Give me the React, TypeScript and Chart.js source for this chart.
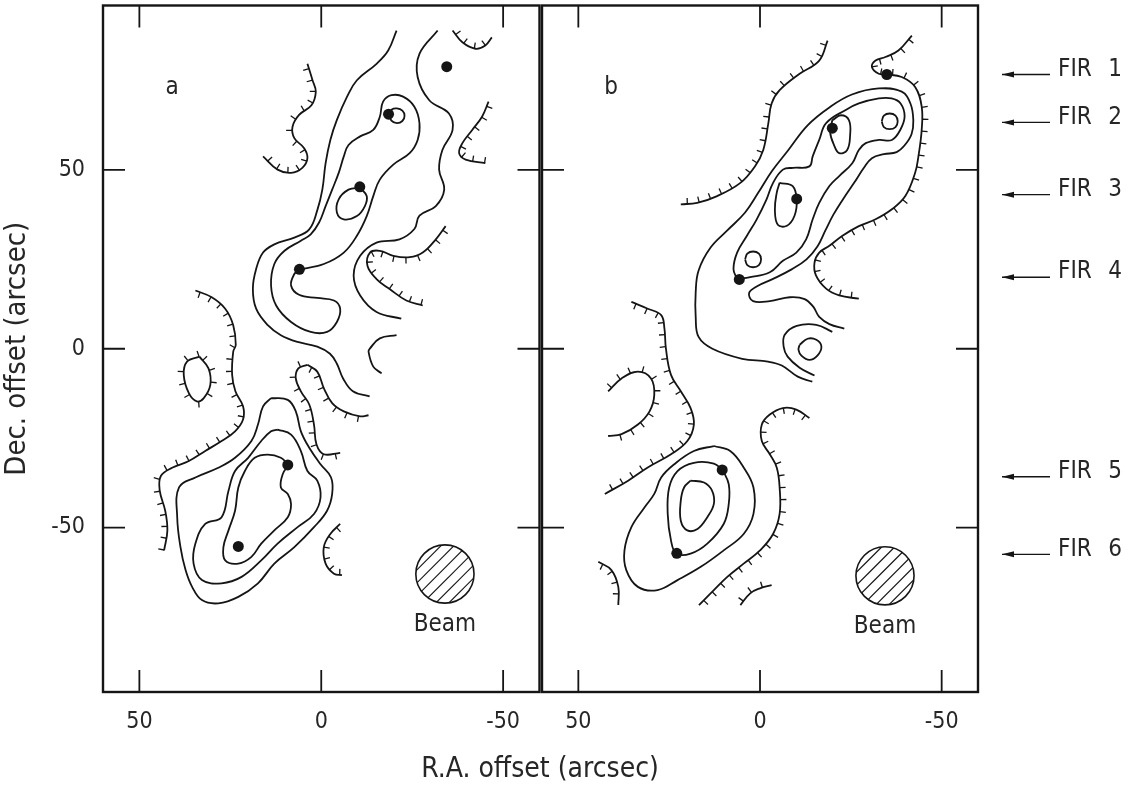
import React, { useEffect, useRef } from "react";
import { Chart, registerables } from "chart.js";

Chart.register(...registerables);

type P = [number, number];

const FONT = '"DejaVu Sans Condensed", "Liberation Sans Narrow", "DejaVu Sans", sans-serif';
const INK = "#151515";
const TEXT = "#262626";

// ---------- axes ----------
const X_MIN = -60;
const X_MAX = 60;
const Y_MIN = -96;
const Y_MAX = 96;
const X_TICKS = [50, 0, -50];
const Y_TICKS = [50, 0, -50];
const X_TITLE = "R.A. offset (arcsec)";
const Y_TITLE = "Dec. offset (arcsec)";

// ---------- sources (FIR 1..6) ----------
const FIR_NAMES = ["1", "2", "3", "4", "5", "6"];
const FIR_ARROW_DEC = [76.7, 63.3, 43.1, 20.0, -35.8, -57.5];
const A_DOT_X = [-34.5, -18.5, -10.6, 6.0, 9.2, 22.8];
const A_DOT_Y = [78.9, 65.6, 45.3, 22.2, -32.5, -55.3];
const B_DOT_X = [-34.9, -19.9, -10.1, 5.7, 10.4, 22.9];
const B_DOT_Y = [76.7, 61.7, 41.9, 19.4, -33.9, -57.2];

// ---------- beam ----------
const A_BEAM: P = [-34, -63];
const B_BEAM: P = [-34.4, -63.5];
const BEAM_RADIUS = 8;
const PANEL_LABEL_POS: P = [41, 73];

// ---------- panel a contours ----------
const A_OUTER_W: P[] = [[-20.7,89.0],[-18.4,83.4],[-15.2,79.7],[-9.8,75.1],[-7.1,70.5],[-4.3,64.0],[-2.5,58.4],[-1.2,51.9],[-0.3,44.5],[1.1,38.7],[3.3,33.4],[7.4,31.1],[12.9,29.2],[16.0,26.9],[17.9,22.3],[18.8,16.8],[17.9,11.2],[14.7,6.6],[11.1,3.8],[6.5,1.9],[1.1,0.6],[-2.4,-1.4],[-4.3,-4.2],[-6.0,-8.3],[-8.7,-11.9],[-13.3,-13.3]];
const A_OUTER_E: P[] = [[-32.0,89.0],[-27.0,82.5],[-26.5,76.0],[-29.7,69.5],[-35.1,65.8],[-36.1,61.2],[-33.3,55.6],[-32.4,50.1],[-33.8,44.5],[-31.5,39.9],[-27.0,37.2],[-25.6,33.5],[-21.5,30.6],[-15.2,29.7],[-10.7,26.0],[-8.9,20.5],[-10.7,14.9],[-15.2,10.3],[-22.0,8.4]];
const A_RIDGE: P[] = [[6.1,22.1],[-0.7,23.7],[-6.2,26.9],[-9.8,31.6],[-12.5,37.1],[-14.3,42.7],[-16.1,47.3],[-19.8,51.5],[-24.3,54.7],[-26.5,58.4],[-27.0,63.1],[-25.6,67.7],[-22.5,70.5],[-19.3,70.9],[-17.0,69.1],[-16.1,64.9],[-14.3,61.2],[-10.7,59.4],[-7.5,57.0],[-6.2,53.8],[-4.8,49.2],[-3.0,44.5],[-1.2,39.9],[0.6,35.3],[2.9,32.0],[5.6,30.2],[10.1,27.4],[12.9,23.7],[13.8,17.7],[12.4,12.1],[8.3,7.5],[2.9,4.7],[-1.6,4.7],[-4.3,7.5],[-5.2,11.2],[-3.5,13.5],[1.1,14.2],[6.1,15.1],[8.3,17.7],[7.4,20.9]];
const A_FIR2_LOOP: P[] = [[-18.7,65.6],[-19.4,66.9],[-20.8,67.2],[-22.3,66.6],[-22.9,65.2],[-22.3,63.7],[-20.8,63.1],[-19.3,63.8]];
const A_FIR3_LOOP: P[] = [[-10.7,45.0],[-12.5,42.7],[-12.0,39.9],[-9.8,37.1],[-6.2,36.2],[-4.3,38.1],[-4.8,41.8],[-7.5,44.5]];
const A_ARC: P[] = [[-20.7,3.8],[-16.1,2.9],[-13.4,0.1],[-13.0,-0.8],[-14.3,-5.0],[-16.6,-6.9]];
const A_SOUTH_OUT: P[] = [[13.8,-13.8],[9.2,-14.3],[7.0,-17.5],[5.6,-23.1],[3.3,-27.7],[0.2,-32.3],[-2.7,-36.0],[-3.0,-40.6],[-1.6,-45.3],[2.0,-49.9],[7.4,-55.5],[12.9,-60.1],[17.4,-65.6],[22.8,-69.4],[28.3,-71.2],[32.8,-70.3],[35.5,-66.6],[37.3,-61.9],[38.7,-55.5],[39.6,-47.1],[39.1,-38.8],[34.6,-36.0],[28.3,-33.3],[23.7,-30.5],[19.2,-25.8],[17.4,-21.2],[16.0,-16.1]];
const A_SOUTH_MID: P[] = [[12.0,-22.6],[8.3,-24.0],[5.6,-28.6],[3.8,-34.2],[1.1,-36.9],[0.2,-41.6],[2.0,-46.2],[6.5,-49.9],[12.0,-54.5],[16.5,-59.2],[21.9,-63.8],[27.4,-65.6],[32.8,-64.7],[35.1,-60.1],[34.6,-54.5],[31.9,-49.0],[27.4,-47.1],[25.5,-39.7],[23.7,-34.2],[20.1,-30.5],[16.5,-25.8],[13.8,-23.1]];
const A_SOUTH_IN: P[] = [[9.0,-32.5],[10.6,-35.1],[11.1,-38.8],[9.2,-40.6],[8.3,-43.4],[9.2,-47.1],[12.9,-50.8],[16.5,-54.5],[19.2,-58.2],[22.8,-60.1],[26.4,-59.2],[26.9,-55.5],[25.5,-50.8],[23.7,-45.3],[22.8,-38.8],[21.0,-34.2],[18.3,-30.5],[14.7,-29.6],[11.1,-30.5]];
// hachured (negative) contours, panel a
const A_NEG_1: P[] = [[3.8,79.7],[2.4,75.1],[1.5,71.9],[2.7,68.1],[6.1,65.4],[7.9,62.1],[7.4,58.9],[4.7,56.1],[3.8,53.3],[5.2,50.6],[8.3,49.2],[12.0,50.1],[16.0,53.8]];
const A_NEG_2: P[] = [[-36.1,89.0],[-38.8,85.7],[-42.4,83.9],[-45.1,84.8],[-46.9,87.1]];
const A_NEG_3: P[] = [[-46.0,69.1],[-44.2,64.9],[-41.5,61.2],[-38.8,57.5],[-37.9,54.7],[-39.7,52.9],[-45.1,51.9]];
const A_NEG_4: P[] = [[-34.2,34.3],[-31.5,30.6],[-27.9,26.9],[-24.3,25.6],[-19.8,26.0],[-16.1,27.4],[-13.4,26.9],[-12.7,23.2],[-15.2,19.5],[-18.8,16.7],[-23.4,13.5],[-27.9,12.1]];
const A_NEG_5: P[] = [[34.6,16.3],[30.1,14.4],[26.4,11.2],[24.2,6.6],[23.5,1.1],[24.2,-0.8],[24.5,-7.3],[23.6,-11.9],[21.5,-16.1],[21.5,-19.8],[23.7,-23.1],[27.4,-25.8],[31.9,-28.6],[36.4,-31.4],[41.0,-33.3],[44.1,-35.6],[44.4,-39.7],[42.9,-45.3],[42.3,-50.8],[43.2,-56.4]];
const A_NEG_6: P[] = [[33.5,-2.2],[31.0,-5.5],[30.5,-10.1],[32.3,-13.8],[34.2,-14.7],[36.4,-12.4],[37.8,-7.3],[36.9,-3.6]];
const A_NEG_7: P[] = [[-5.2,-29.1],[-0.7,-29.5],[1.3,-26.8],[2.0,-21.2],[3.3,-15.6],[5.6,-11.9],[7.0,-8.3],[6.3,-5.5],[3.8,-4.5]];
const A_NEG_7B: P[] = [[3.8,-4.5],[1.1,-6.4],[-0.7,-11.0],[-3.0,-15.2],[-6.2,-17.5],[-10.7,-18.9],[-13.0,-18.6]];
const A_NEG_8: P[] = [[-5.2,-49.0],[-2.5,-51.8],[-0.7,-55.5],[-1.2,-60.1],[-3.5,-62.9],[-5.7,-63.3]];

// ---------- panel b contours ----------
const B_OUTER: P[] = [[-14.4,-9.2],[-10.4,-7.8],[-6.0,-4.7],[-2.2,-3.6],[4.9,-2.8],[13.1,0.0],[16.9,3.3],[17.7,8.9],[17.7,15.8],[16.9,21.9],[13.6,28.3],[9.0,33.1],[4.1,38.1],[0.5,43.6],[-3.3,49.7],[-7.6,55.3],[-13.1,62.5],[-19.1,67.5],[-25.3,71.1],[-32.7,72.8],[-39.0,71.9],[-41.4,68.6],[-42.2,63.9],[-41.7,60.0],[-39.8,56.9],[-37.6,55.0],[-34.1,54.4],[-30.8,53.3],[-28.6,50.6],[-25.9,46.4],[-22.9,41.9],[-20.2,37.5],[-18.0,33.1],[-15.8,28.6],[-12.8,25.0],[-8.7,22.2],[-3.3,19.4],[0.8,17.5],[3.0,15.6],[1.9,13.3],[-2.7,13.3],[-8.2,14.4],[-12.3,13.9],[-14.7,11.7],[-16.3,8.9],[-19.1,6.9],[-23.2,5.6]];
const B_RIDGE: P[] = [[6.3,19.5],[2.7,20.0],[-2.7,21.4],[-6.3,24.6],[-10.0,26.9],[-12.7,30.6],[-14.5,36.2],[-16.3,40.8],[-19.1,45.5],[-21.8,48.3],[-25.4,51.9],[-27.2,55.6],[-29.1,57.5],[-32.7,58.4],[-36.3,58.4],[-38.7,61.4],[-39.8,65.0],[-38.7,68.6],[-36.2,70.0],[-32.7,70.0],[-27.2,68.6],[-23.6,66.8],[-18.2,63.1],[-16.3,58.4],[-14.5,53.8],[-13.6,51.0],[-9.1,50.6],[-6.3,50.1],[-3.6,46.4],[-1.8,41.8],[0.9,36.2],[3.6,31.6],[6.3,26.9],[7.3,22.3]];
const B_FIR2_LOOP: P[] = [[-19.9,63.9],[-22.3,65.3],[-24.5,63.9],[-24.8,59.7],[-24.0,55.6],[-21.8,54.7],[-20.4,56.9],[-19.3,60.6]];
const B_NE_LOOP: P[] = [[-33.5,63.6],[-34.1,65.2],[-35.7,65.8],[-37.3,65.2],[-37.9,63.6],[-37.3,62.0],[-35.7,61.4],[-34.1,62.0]];
const B_FIR3_LOOP: P[] = [[-5.4,46.4],[-9.0,45.5],[-10.1,41.6],[-9.5,37.2],[-7.4,34.4],[-4.9,34.7],[-4.1,38.9],[-4.6,43.6]];
const B_FIR4_LOOP: P[] = [[4.1,25.0],[3.5,26.6],[1.9,27.2],[0.3,26.6],[-0.3,25.0],[0.3,23.4],[1.9,22.8],[3.5,23.4]];
const B_HOOK: P[] = [[-19.9,4.7],[-15.5,6.7],[-10.1,6.4],[-6.8,3.9],[-6.5,0.6],[-7.6,-2.2],[-10.9,-5.3],[-15.0,-7.5]];
const B_OVAL: P[] = [[-10.9,1.1],[-13.1,2.8],[-15.5,2.5],[-16.9,0.6],[-15.8,-1.9],[-13.6,-3.1],[-11.4,-1.9],[-10.6,-0.3]];
const B_SOUTH_OUT: P[] = [[12.7,-27.2],[8.2,-28.6],[4.5,-33.2],[1.8,-38.8],[1.8,-46.2],[4.5,-51.8],[10.0,-56.4],[16.3,-61.0],[22.7,-64.7],[28.2,-67.5],[33.6,-66.6],[36.8,-61.9],[37.3,-56.4],[35.4,-49.9],[31.8,-44.4],[29.1,-40.6],[27.2,-36.0],[23.6,-32.3],[18.2,-28.6]];
const B_SOUTH_MID: P[] = [[10.2,-34.0],[12.7,-32.1],[18.2,-31.9],[22.7,-34.2],[25.0,-38.8],[25.4,-46.2],[24.5,-53.6],[23.0,-57.3],[19.1,-57.3],[14.5,-54.5],[10.0,-49.0],[8.6,-43.4],[8.6,-37.9]];
const B_SOUTH_IN: P[] = [[19.1,-36.9],[15.4,-37.4],[13.2,-39.7],[12.7,-43.4],[14.5,-47.1],[17.2,-50.4],[20.0,-50.8],[21.8,-48.1],[21.8,-42.5],[20.9,-38.8]];
// hachured (negative) contours, panel b
const B_NEG_1: P[] = [[-18.6,86.2],[-16.3,80.6],[-10.9,76.9],[-5.4,72.3],[-3.2,68.6],[-2.3,63.1],[-0.9,55.6],[1.4,51.0],[5.4,46.4],[11.8,42.7],[17.3,40.8],[21.8,40.4]];
const B_NEG_2: P[] = [[-41.8,87.6],[-38.1,83.4],[-34.5,81.6],[-31.8,80.6],[-30.8,78.8],[-32.7,76.9],[-34.9,76.7],[-39.0,76.0],[-42.7,73.2],[-44.5,67.7],[-44.5,61.2],[-43.6,53.8],[-42.7,49.2],[-40.0,42.7],[-36.3,39.0],[-31.8,36.2],[-27.2,34.3],[-22.7,31.6],[-19.1,28.8],[-16.3,26.9],[-15.0,24.1],[-15.4,20.5],[-18.2,16.8],[-21.8,14.9],[-27.2,14.0]];
const B_NEG_3: P[] = [[35.4,13.1],[30.9,11.2],[27.2,9.4],[26.3,5.6],[25.9,0.1],[24.5,-7.3],[21.8,-11.9],[19.1,-16.6],[18.2,-21.2],[20.0,-25.8],[24.5,-29.5],[30.9,-33.2],[36.3,-36.9],[42.7,-40.6]];
const B_NEG_4: P[] = [[41.8,-11.9],[38.1,-8.3],[33.6,-6.4],[30.0,-8.3],[29.1,-12.9],[30.4,-17.5],[33.6,-21.2],[38.1,-23.9],[41.8,-24.4]];
const B_NEG_5: P[] = [[44.5,-59.6],[40.9,-61.9],[39.0,-66.6],[39.0,-71.7]];
const B_NEG_6: P[] = [[-13.6,-19.4],[-10.0,-17.0],[-6.3,-16.6],[-2.7,-18.4],[-0.5,-21.2],[-0.5,-25.8],[-2.7,-29.5],[-4.6,-33.2],[-5.4,-38.8],[-5.4,-46.2],[-3.6,-51.8],[0.0,-56.4],[4.5,-60.1],[9.0,-63.8],[12.7,-67.5],[16.8,-71.7]];
const B_NEG_7: P[] = [[5.4,-71.7],[2.7,-68.4],[0.0,-67.0],[-3.2,-66.1]];

// [points, closed, hachure side (0 = plain)]
type Spec = [P[], boolean, number];
const A_LINES: Spec[] = [
  [A_OUTER_W, false, 0], [A_OUTER_E, false, 0], [A_RIDGE, true, 0], [A_FIR2_LOOP, true, 0],
  [A_FIR3_LOOP, true, 0], [A_ARC, false, 0], [A_SOUTH_OUT, true, 0], [A_SOUTH_MID, true, 0],
  [A_SOUTH_IN, true, 0],
  [A_NEG_1, false, 1], [A_NEG_2, false, -1], [A_NEG_3, false, -1], [A_NEG_4, false, -1],
  [A_NEG_5, false, 1], [A_NEG_6, true, -1], [A_NEG_7, false, -1], [A_NEG_7B, false, 1],
  [A_NEG_8, false, -1],
];
const B_LINES: Spec[] = [
  [B_OUTER, false, 0], [B_RIDGE, true, 0], [B_FIR2_LOOP, true, 0], [B_NE_LOOP, true, 0],
  [B_FIR3_LOOP, true, 0], [B_FIR4_LOOP, true, 0], [B_HOOK, false, 0], [B_OVAL, true, 0],
  [B_SOUTH_OUT, true, 0], [B_SOUTH_MID, true, 0], [B_SOUTH_IN, true, 0],
  [B_NEG_1, false, 1], [B_NEG_2, false, -1], [B_NEG_3, false, 1], [B_NEG_4, false, -1],
  [B_NEG_5, false, 1], [B_NEG_6, false, -1], [B_NEG_7, false, -1],
];

function contour([pts, closed, hachure]: Spec) {
  const list = closed ? [...pts, pts[0]] : pts;
  return {
    data: list.map(([x, y]) => ({ x, y })),
    showLine: true,
    borderColor: INK,
    borderWidth: 1.8,
    pointRadius: 0,
    pointHoverRadius: 0,
    tension: 0.4,
    fill: false,
    hachure,
  };
}

const decorPlugin = {
  id: "decor",
  afterDatasetsDraw(chart: any) {
    const o = chart.options.plugins.decor;
    const { ctx, chartArea: ca } = chart;
    const xs = chart.scales.x;
    const ys = chart.scales.y;
    ctx.save();
    ctx.beginPath();
    ctx.rect(ca.left, ca.top, ca.right - ca.left, ca.bottom - ca.top);
    ctx.clip();
    // hachure ticks along negative contours
    ctx.strokeStyle = INK;
    ctx.lineWidth = 1.3;
    chart.data.datasets.forEach((ds: any, i: number) => {
      if (!ds.hachure) return;
      const pts: any[] = chart.getDatasetMeta(i).data;
      const poly: P[] = [];
      for (let k = 0; k < pts.length - 1; k++) {
        const a = pts[k];
        const b = pts[k + 1];
        const c1x = a.cp2x ?? a.x, c1y = a.cp2y ?? a.y;
        const c2x = b.cp1x ?? b.x, c2y = b.cp1y ?? b.y;
        for (let s = 0; s < 12; s++) {
          const t = s / 12, m = 1 - t;
          poly.push([
            m * m * m * a.x + 3 * m * m * t * c1x + 3 * m * t * t * c2x + t * t * t * b.x,
            m * m * m * a.y + 3 * m * m * t * c1y + 3 * m * t * t * c2y + t * t * t * b.y,
          ]);
        }
      }
      const last = pts[pts.length - 1];
      poly.push([last.x, last.y]);
      let acc = 0;
      let next = 5;
      for (let k = 0; k < poly.length - 1; k++) {
        const [x0, y0] = poly[k];
        const [x1, y1] = poly[k + 1];
        const dx = x1 - x0, dy = y1 - y0;
        const L = Math.hypot(dx, dy);
        if (L === 0) continue;
        while (acc + L >= next) {
          const t = (next - acc) / L;
          const px = x0 + dx * t, py = y0 + dy * t;
          const nx = (-dy / L) * ds.hachure, ny = (dx / L) * ds.hachure;
          ctx.beginPath();
          ctx.moveTo(px, py);
          ctx.lineTo(px + nx * 6, py + ny * 6);
          ctx.stroke();
          next += 12;
        }
        acc += L;
      }
    });
    // beam
    const cx = xs.getPixelForValue(o.beam[0]);
    const cy = ys.getPixelForValue(o.beam[1]);
    const r = Math.abs(xs.getPixelForValue(0) - xs.getPixelForValue(BEAM_RADIUS));
    ctx.save();
    ctx.beginPath();
    ctx.arc(cx, cy, r, 0, Math.PI * 2);
    ctx.clip();
    ctx.lineWidth = 1.2;
    for (let d = -2 * r; d <= 2 * r; d += 13) {
      ctx.beginPath();
      ctx.moveTo(cx + d - r, cy + r);
      ctx.lineTo(cx + d + r, cy - r);
      ctx.stroke();
    }
    ctx.restore();
    ctx.lineWidth = 1.6;
    ctx.beginPath();
    ctx.arc(cx, cy, r, 0, Math.PI * 2);
    ctx.stroke();
    ctx.fillStyle = TEXT;
    ctx.font = `24px ${FONT}`;
    ctx.textAlign = "center";
    ctx.textBaseline = "middle";
    ctx.fillText("Beam", cx, cy + r + 22);
    // panel letter
    ctx.font = `24px ${FONT}`;
    ctx.fillText(o.letter, xs.getPixelForValue(PANEL_LABEL_POS[0]), ys.getPixelForValue(PANEL_LABEL_POS[1]));
    ctx.restore();
  },
  afterDraw(chart: any) {
    const o = chart.options.plugins.decor;
    const { ctx, chartArea: ca } = chart;
    const xs = chart.scales.x;
    const ys = chart.scales.y;
    ctx.save();
    ctx.strokeStyle = INK;
    ctx.fillStyle = INK;
    ctx.lineWidth = 1.8;
    const T = 22;
    X_TICKS.forEach((v) => {
      const px = xs.getPixelForValue(v);
      ctx.beginPath();
      ctx.moveTo(px, ca.top);
      ctx.lineTo(px, ca.top + T);
      ctx.moveTo(px, ca.bottom);
      ctx.lineTo(px, ca.bottom - T);
      ctx.stroke();
    });
    Y_TICKS.forEach((v) => {
      const py = ys.getPixelForValue(v);
      ctx.beginPath();
      ctx.moveTo(ca.left, py);
      ctx.lineTo(ca.left + T, py);
      ctx.moveTo(ca.right, py);
      ctx.lineTo(ca.right - T, py);
      ctx.stroke();
    });
    ctx.lineWidth = 2.4;
    ctx.strokeRect(ca.left, ca.top, ca.right - ca.left, ca.bottom - ca.top);
    if (o.fir) {
      ctx.font = `24px ${FONT}`;
      ctx.textBaseline = "middle";
      FIR_NAMES.forEach((name, i) => {
        const y = ys.getPixelForValue(FIR_ARROW_DEC[i]);
        const x0 = ca.right + 24;
        ctx.lineWidth = 1.4;
        ctx.beginPath();
        ctx.moveTo(x0, y);
        ctx.lineTo(ca.right + 72, y);
        ctx.stroke();
        ctx.beginPath();
        ctx.moveTo(x0, y);
        ctx.lineTo(x0 + 12, y - 3);
        ctx.lineTo(x0 + 12, y + 3);
        ctx.closePath();
        ctx.fill();
        ctx.fillStyle = TEXT;
        ctx.textAlign = "left";
        ctx.fillText("FIR", ca.right + 80, y - 5);
        ctx.textAlign = "center";
        ctx.fillText(name, ca.right + 137, y - 5);
        ctx.fillStyle = INK;
      });
    }
    ctx.restore();
  },
};

function tickFont() {
  return { family: FONT, size: 23 };
}

function noPad(s: any) {
  s.paddingTop = 0;
  s.paddingBottom = 0;
  s.paddingLeft = 0;
  s.paddingRight = 0;
}

function makeConfig(panel: "a" | "b"): any {
  const isA = panel === "a";
  const lines = (isA ? A_LINES : B_LINES).map(contour);
  const dx = isA ? A_DOT_X : B_DOT_X;
  const dy = isA ? A_DOT_Y : B_DOT_Y;
  const dots = {
    data: dx.map((x, i) => ({ x, y: dy[i] })),
    showLine: false,
    pointRadius: 5.5,
    pointHoverRadius: 5.5,
    pointBackgroundColor: INK,
    pointBorderWidth: 0,
  };
  return {
    type: "scatter",
    data: { datasets: [dots, ...lines] },
    plugins: [decorPlugin],
    options: {
      responsive: false,
      animation: false,
      events: [],
      devicePixelRatio: 1,
      layout: { padding: isA ? { left: 0, right: 2, top: 1, bottom: 0 } : { left: 12, right: 157, top: 1, bottom: 0 } },
      plugins: {
        legend: { display: false },
        tooltip: { enabled: false },
        decor: { beam: isA ? A_BEAM : B_BEAM, letter: panel, fir: !isA },
      },
      scales: {
        x: {
          type: "linear",
          min: X_MIN,
          max: X_MAX,
          reverse: true,
          afterBuildTicks: (s: any) => {
            s.ticks = X_TICKS.map((value) => ({ value }));
          },
          afterFit: (s: any) => {
            s.height = 95;
            noPad(s);
          },
          grid: { display: false, drawTicks: false },
          border: { display: false },
          ticks: { font: tickFont(), color: TEXT, padding: 16, maxRotation: 0, autoSkip: false },
        },
        y: {
          type: "linear",
          display: isA,
          min: Y_MIN,
          max: Y_MAX,
          afterBuildTicks: (s: any) => {
            s.ticks = Y_TICKS.map((value) => ({ value }));
          },
          afterFit: (s: any) => {
            if (isA) s.width = 103;
            noPad(s);
          },
          grid: { display: false, drawTicks: false },
          border: { display: false },
          ticks: { font: tickFont(), color: TEXT, padding: 18, autoSkip: false },
          title: { display: true, text: Y_TITLE, font: { family: FONT, size: 29 }, color: TEXT, padding: { top: 0, bottom: 0 } },
        },
      },
    },
  };
}

function Panel({ panel, left, width }: { panel: "a" | "b"; left: number; width: number }) {
  const ref = useRef<HTMLCanvasElement>(null);
  useEffect(() => {
    if (!ref.current) return;
    const chart = new Chart(ref.current, makeConfig(panel));
    return () => chart.destroy();
  }, [panel]);
  return (
    <canvas
      ref={ref}
      width={width}
      height={787}
      style={{ position: "absolute", left, top: 0, width, height: 787 }}
    />
  );
}

export default function App() {
  return (
    <div style={{ position: "fixed", left: 0, top: 0, width: 1135, height: 787, background: "#fff", overflow: "hidden" }}>
      <Panel panel="a" left={0} width={545} />
      <Panel panel="b" left={530} width={605} />
      <div
        style={{
          position: "absolute",
          left: 0,
          top: 751,
          width: 1080,
          textAlign: "center",
          fontFamily: FONT,
          fontSize: 28,
          lineHeight: "34px",
          color: TEXT,
        }}
      >
        {X_TITLE}
      </div>
    </div>
  );
}
